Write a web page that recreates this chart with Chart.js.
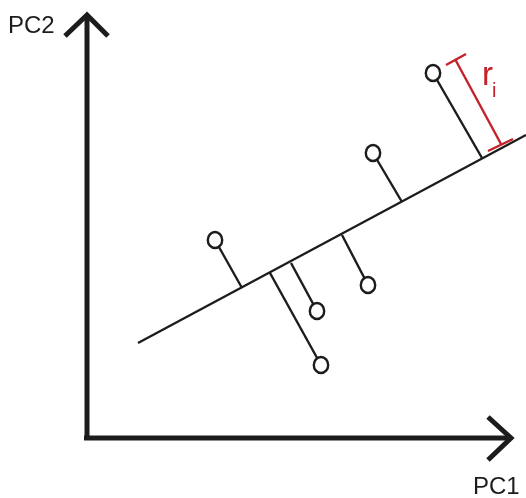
<!DOCTYPE html>
<html>
<head>
<meta charset="utf-8">
<script src="https://cdn.jsdelivr.net/npm/chart.js@4"></script>
<style>
  body { margin: 0; background: #fff; }
  #wrap { width: 526px; height: 498px; }
</style>
</head>
<body>
<div id="wrap"><canvas id="myChart"></canvas></div>
<script>
// observations (origin = where the two axes meet)
const obsX = [128, 234, 230, 281, 286, 346]
const obsY = [198, 73, 127, 153, 285, 365]
// where each observation lands on the PC line
const footX = [155, 183, 204, 255, 315, 395]
const footY = [150, 165, 175, 203, 236, 280]
// the fitted PC line
const pcX = [51, 439]
const pcY = [95, 303]
// axes with arrow heads
const yAxisX = [0, 0], yAxisY = [-2, 423]
const yHeadX = [-22, 0, 21], yHeadY = [402, 423, 402]
const xAxisX = [-3, 424], xAxisY = [0, 0]
const xHeadX = [401, 424, 401], xHeadY = [21, 0, -22]
// r_i bracket
const rBarX = [368, 414], rBarY = [379, 294]
const rTopX = [359, 379], rTopY = [373, 384]
const rBotX = [401, 426], rBotY = [287, 299]
// text labels
const labelText = ['PC2', 'PC1']
const labelX = [-79, 386]
const labelY = [405, -56]

const ink = '#1c1c1c'
const red = '#c4222b'

function pts(xs, ys) {
  return xs.map((x, i) => ({ x: x, y: ys[i] }))
}

function lineSet(xs, ys, color, width) {
  return {
    type: 'scatter',
    data: pts(xs, ys),
    showLine: true,
    borderColor: color,
    borderWidth: width,
    borderCapStyle: 'butt',
    borderJoinStyle: 'miter',
    pointRadius: 0,
    clip: false
  }
}

// hollow "o" marker
const marker = document.createElement('canvas')
marker.width = 20
marker.height = 22
{
  const c = marker.getContext('2d')
  c.fillStyle = '#fff'
  c.strokeStyle = ink
  c.lineWidth = 2.4
  c.beginPath()
  c.ellipse(10, 11, 7.2, 8, 0, 0, Math.PI * 2)
  c.fill()
  c.stroke()
}

const datasets = [{
  type: 'scatter',
  data: pts(obsX, obsY),
  pointStyle: marker,
  pointRadius: 9,
  clip: false
}]
obsX.forEach((x, i) => {
  datasets.push(lineSet([footX[i], x], [footY[i], obsY[i]], ink, 2.4))
})
datasets.push(lineSet(pcX, pcY, ink, 2.4))
datasets.push(lineSet(rBarX, rBarY, red, 2.4))
datasets.push(lineSet(rTopX, rTopY, red, 2.4))
datasets.push(lineSet(rBotX, rBotY, red, 2.4))
datasets.push(lineSet(yAxisX, yAxisY, ink, 5))
datasets.push(lineSet(yHeadX, yHeadY, ink, 5))
datasets.push(lineSet(xAxisX, xAxisY, ink, 5))
datasets.push(lineSet(xHeadX, xHeadY, ink, 5))

const labels = {
  id: 'labels',
  afterDatasetsDraw(chart) {
    const ctx = chart.ctx
    const sx = chart.scales.x, sy = chart.scales.y
    ctx.save()
    ctx.textAlign = 'left'
    ctx.textBaseline = 'alphabetic'
    ctx.fillStyle = ink
    ctx.font = '24px "Liberation Sans", Arial, sans-serif'
    labelText.forEach((t, i) => {
      ctx.fillText(t, sx.getPixelForValue(labelX[i]), sy.getPixelForValue(labelY[i]))
    })
    ctx.fillStyle = red
    ctx.font = '33px "Liberation Sans", Arial, sans-serif'
    ctx.fillText('r', sx.getPixelForValue(395), sy.getPixelForValue(353))
    ctx.font = '20px "Liberation Sans", Arial, sans-serif'
    ctx.fillText('i', sx.getPixelForValue(405), sy.getPixelForValue(341))
    ctx.restore()
  }
}

new Chart(document.getElementById('myChart'), {
  type: 'scatter',
  data: { datasets: datasets },
  options: {
    responsive: true,
    maintainAspectRatio: false,
    animation: false,
    events: [],
    layout: { padding: 0, autoPadding: false },
    plugins: { legend: { display: false }, tooltip: { enabled: false } },
    scales: {
      x: { type: 'linear', display: false, min: -87, max: 439 },
      y: { type: 'linear', display: false, min: -60, max: 438 }
    }
  },
  plugins: [labels]
})
</script>
</body>
</html>
